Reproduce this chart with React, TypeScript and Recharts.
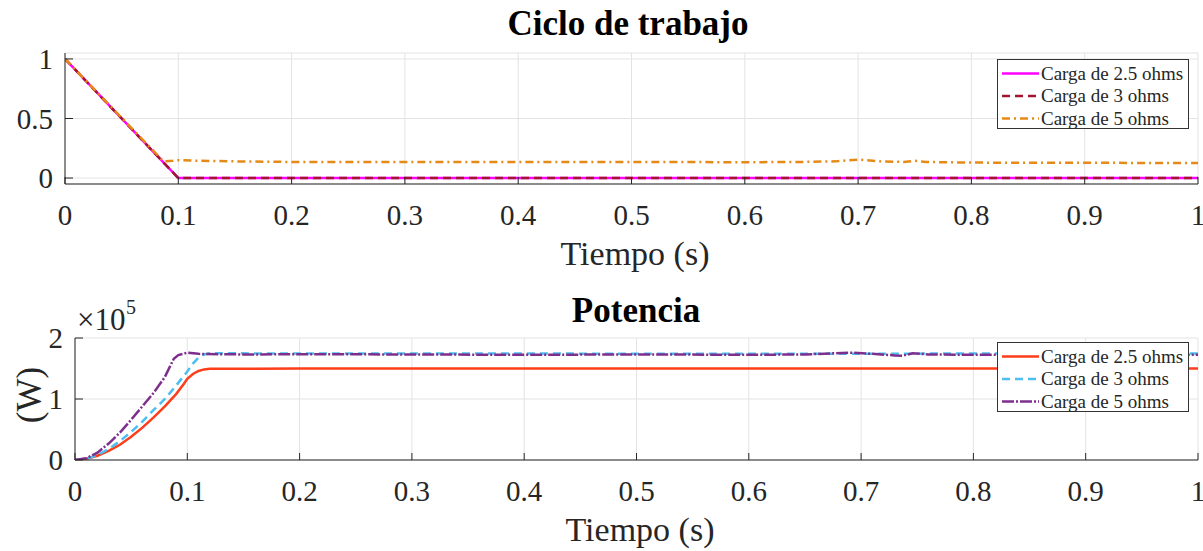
import { LineChart, Line, XAxis, YAxis, CartesianGrid, Legend } from "recharts";

const FONT = "'Liberation Serif', 'Times New Roman', Times, serif";
const INK = "#262626";
const GRID = "#e3e3e3";

// Shared time axis
const timeTicks = [0, 0.1, 0.2, 0.3, 0.4, 0.5, 0.6, 0.7, 0.8, 0.9, 1];
const timeTickLabels = ["0", "0.1", "0.2", "0.3", "0.4", "0.5", "0.6", "0.7", "0.8", "0.9", "1"];

const cicloTicks = [0, 0.5, 1];
const cicloTickLabels = ["0", "0.5", "1"];
const potenciaTicks = [0, 100000, 200000];
const potenciaTickLabels = ["0", "1", "2"];

const seriesNames = ["Carga de 2.5 ohms", "Carga de 3 ohms", "Carga de 5 ohms"];

// Ciclo de trabajo (duty cycle) per load
const cicloT25 = [0, 0.1, 1];
const cicloV25 = [1, 0, 0];
const cicloT3 = [0, 0.1, 1];
const cicloV3 = [1, 0, 0];
const cicloT5 = [0, 0.087, 0.095, 0.1, 0.12, 0.15, 0.2, 0.3, 0.4, 0.5, 0.6, 0.65, 0.68, 0.7, 0.72, 0.74, 0.75, 0.76, 0.8, 0.85, 0.9, 0.95, 1];
const cicloV5 = [1, 0.14, 0.145, 0.15, 0.145, 0.14, 0.135, 0.135, 0.135, 0.135, 0.133, 0.135, 0.14, 0.155, 0.14, 0.135, 0.145, 0.135, 0.13, 0.128, 0.128, 0.127, 0.127];

// Potencia (W) per load
const potT25 = [0, 0.01, 0.02, 0.03, 0.04, 0.05, 0.06, 0.07, 0.08, 0.09, 0.097, 0.1, 0.105, 0.11, 0.115, 0.12, 0.2, 0.5, 1];
const potV25 = [0, 2000, 7000, 15000, 25000, 38000, 53000, 70000, 88000, 108000, 125000, 133000, 141000, 146000, 148500, 149500, 150000, 150000, 150000];
const potT3 = [0, 0.01, 0.02, 0.03, 0.04, 0.05, 0.06, 0.07, 0.08, 0.09, 0.1, 0.105, 0.11, 0.115, 0.12, 0.2, 0.4, 0.6, 0.8, 1];
const potV3 = [0, 2000, 8000, 18000, 31000, 46000, 63000, 82000, 100000, 122000, 145000, 158000, 168000, 173000, 175000, 174500, 174500, 174000, 174500, 174500];
const potT5 = [0, 0.01, 0.02, 0.03, 0.04, 0.05, 0.06, 0.07, 0.08, 0.085, 0.088, 0.092, 0.1, 0.11, 0.15, 0.2, 0.3, 0.4, 0.5, 0.6, 0.65, 0.69, 0.71, 0.73, 0.737, 0.746, 0.76, 0.8, 0.9, 1];
const potV5 = [0, 3000, 12000, 27000, 45000, 66000, 88000, 110000, 136000, 155000, 166000, 172000, 176000, 174000, 173000, 173500, 173000, 172500, 173000, 172500, 173000, 176000, 174000, 171500, 171000, 175000, 173000, 172500, 173000, 172500];

const toPoints = (ts: number[], vs: number[]) => ts.map((t, i) => ({ t, v: vs[i] }));

const cicloSeries = [
  { name: seriesNames[0], color: "#ff00ff", dash: undefined, width: 2.5, data: toPoints(cicloT25, cicloV25) },
  { name: seriesNames[1], color: "#a2142f", dash: "8 5", width: 2.5, data: toPoints(cicloT3, cicloV3) },
  { name: seriesNames[2], color: "#e68a17", dash: "8 4 2 4", width: 2.5, data: toPoints(cicloT5, cicloV5) },
];

const potenciaSeries = [
  { name: seriesNames[0], color: "#fe3d1a", dash: undefined, width: 2.5, data: toPoints(potT25, potV25) },
  { name: seriesNames[1], color: "#4dbeee", dash: "8 5", width: 2.5, data: toPoints(potT3, potV3) },
  { name: seriesNames[2], color: "#7e2f8e", dash: "12 2 2 2", width: 2.5, data: toPoints(potT5, potV5) },
];

type SeriesDef = (typeof cicloSeries)[number];

function labelFor(value: number, ticks: number[], labels: string[]) {
  const i = ticks.findIndex((t) => Math.abs(t - value) < 1e-9);
  return i >= 0 ? labels[i] : String(value);
}

// MATLAB-style ticks: short marks pointing into the plot, labels outside
function TimeTick({ x = 0, y = 0, payload }: { x?: number; y?: number; payload?: { value: number } }) {
  const value = payload?.value ?? 0;
  return (
    <g>
      <line x1={x} x2={x} y1={y} y2={y - 7} stroke={INK} strokeWidth={1} />
      <text x={x} y={y + 41} textAnchor="middle" fontSize={29} fontFamily={FONT} fill={INK}>
        {labelFor(value, timeTicks, timeTickLabels)}
      </text>
    </g>
  );
}

function makeValueTick(ticks: number[], labels: string[]) {
  return function ValueTick({ x = 0, y = 0, payload }: { x?: number; y?: number; payload?: { value: number } }) {
    const value = payload?.value ?? 0;
    return (
      <g>
        <line x1={x} x2={x + 8} y1={y} y2={y} stroke={INK} strokeWidth={1} />
        <text x={x - 12} y={y + 10} textAnchor="end" fontSize={29} fontFamily={FONT} fill={INK}>
          {labelFor(value, ticks, labels)}
        </text>
      </g>
    );
  };
}

const CicloTick = makeValueTick(cicloTicks, cicloTickLabels);
const PotenciaTick = makeValueTick(potenciaTicks, potenciaTickLabels);

function LegendBox({ series }: { series: SeriesDef[] }) {
  return (
    <svg width={192} height={70} style={{ display: "block" }}>
      <rect x={0.5} y={0.5} width={191} height={69} fill="#ffffff" stroke="#333333" strokeWidth={1} />
      {series.map((s, i) => {
        const cy = 14.5 + i * 22.5;
        return (
          <g key={s.name}>
            <line x1={5} x2={42} y1={cy} y2={cy} stroke={s.color} strokeWidth={2.5} strokeDasharray={s.dash} />
            <text x={44} y={cy + 6} fontSize={19} fontFamily={FONT} fill={INK}>
              {s.name}
            </text>
          </g>
        );
      })}
    </svg>
  );
}

function SeriesLines({ series }: { series: SeriesDef[] }) {
  return (
    <>
      {series.map((s) => (
        <Line
          key={s.name}
          data={s.data}
          dataKey="v"
          name={s.name}
          type="linear"
          stroke={s.color}
          strokeWidth={s.width}
          strokeDasharray={s.dash}
          dot={false}
          activeDot={false}
          isAnimationActive={false}
        />
      ))}
    </>
  );
}

export default function App() {
  return (
    <div
      style={{
        position: "absolute",
        left: 0,
        top: 0,
        width: 1203,
        height: 551,
        overflow: "hidden",
        background: "#ffffff",
        fontFamily: FONT,
      }}
    >
      {/* Ciclo de trabajo */}
      <div style={{ position: "absolute", left: 0, top: 0 }}>
        <LineChart width={1203} height={240} margin={{ top: 53, right: 5, left: 0, bottom: 0 }}>
          <CartesianGrid stroke={GRID} strokeWidth={1} />
          <XAxis
            type="number"
            dataKey="t"
            domain={[0, 1]}
            ticks={timeTicks}
            height={56}
            tickSize={0}
            tickMargin={0}
            tickLine={false}
            tick={<TimeTick />}
            axisLine={{ stroke: INK, strokeWidth: 1 }}
            allowDataOverflow
          />
          <YAxis
            type="number"
            domain={[-0.05, 1.05]}
            ticks={cicloTicks}
            width={65}
            tickSize={0}
            tickMargin={0}
            tickLine={false}
            tick={<CicloTick />}
            axisLine={{ stroke: INK, strokeWidth: 1 }}
            allowDataOverflow
          />
          {SeriesLines({ series: cicloSeries })}
          <Legend
            layout="vertical"
            align="center"
            verticalAlign="middle"
            wrapperStyle={{ left: 997, top: 59, width: 192, height: 70 }}
            content={() => <LegendBox series={cicloSeries} />}
          />
        </LineChart>
      </div>

      {/* Potencia */}
      <div style={{ position: "absolute", left: 0, top: 290 }}>
        <LineChart width={1203} height={226} margin={{ top: 48, right: 5, left: 0, bottom: 0 }}>
          <CartesianGrid stroke={GRID} strokeWidth={1} />
          <XAxis
            type="number"
            dataKey="t"
            domain={[0, 1]}
            ticks={timeTicks}
            height={56}
            tickSize={0}
            tickMargin={0}
            tickLine={false}
            tick={<TimeTick />}
            axisLine={{ stroke: INK, strokeWidth: 1 }}
            allowDataOverflow
          />
          <YAxis
            type="number"
            domain={[0, 200000]}
            ticks={potenciaTicks}
            width={75}
            tickSize={0}
            tickMargin={0}
            tickLine={false}
            tick={<PotenciaTick />}
            axisLine={{ stroke: INK, strokeWidth: 1 }}
            allowDataOverflow
          />
          {SeriesLines({ series: potenciaSeries })}
          <Legend
            layout="vertical"
            align="center"
            verticalAlign="middle"
            wrapperStyle={{ left: 997, top: 52, width: 192, height: 70 }}
            content={() => <LegendBox series={potenciaSeries} />}
          />
        </LineChart>
      </div>

      {/* Titles and axis labels */}
      <svg width={1203} height={551} style={{ position: "absolute", left: 0, top: 0, pointerEvents: "none" }}>
        <text x={628} y={35} textAnchor="middle" fontSize={35} fontWeight="bold" fontFamily={FONT} fill="#000000">
          Ciclo de trabajo
        </text>
        <text x={635} y={265} textAnchor="middle" fontSize={34} fontFamily={FONT} fill={INK}>
          Tiempo (s)
        </text>
        <text x={636} y={322} textAnchor="middle" fontSize={35} fontWeight="bold" fontFamily={FONT} fill="#000000">
          Potencia
        </text>
        <text x={77} y={330} fontSize={31} fontFamily={FONT} fill={INK}>
          ×10
        </text>
        <text x={126} y={314} fontSize={20} fontFamily={FONT} fill={INK}>
          5
        </text>
        <text transform="translate(41,395) rotate(-90)" textAnchor="middle" fontSize={35} fontFamily={FONT} fill={INK}>
          (W)
        </text>
        <text x={640} y={541} textAnchor="middle" fontSize={34} fontFamily={FONT} fill={INK}>
          Tiempo (s)
        </text>
      </svg>
    </div>
  );
}
